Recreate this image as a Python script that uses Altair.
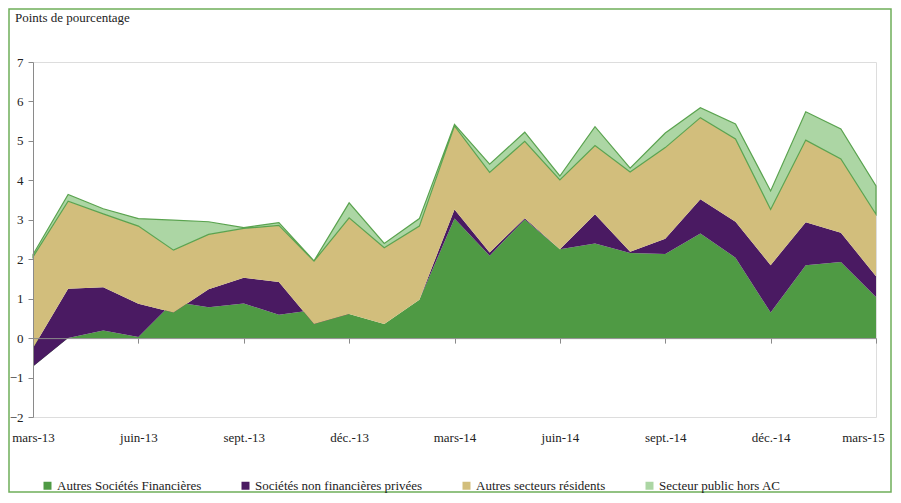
import altair as alt
import pandas as pd

months = ["mars-13", "avr.-13", "mai-13", "juin-13", "juil.-13", "août-13", "sept.-13",
          "oct.-13", "nov.-13", "déc.-13", "janv.-14", "févr.-14", "mars-14", "avr.-14",
          "mai-14", "juin-14", "juil.-14", "août-14", "sept.-14", "oct.-14", "nov.-14",
          "déc.-14", "janv.-15", "févr.-15", "mars-15"]
tick_labels = ["mars-13", "juin-13", "sept.-13", "déc.-13", "mars-14", "juin-14",
               "sept.-14", "déc.-14", "mars-15"]
series = ["Autres Sociétés Financières", "Sociétés non financières privées",
          "Autres secteurs résidents", "Secteur public hors AC"]
colors = ["#4f9a44", "#4a1a62", "#d2be7c", "#acd6a4"]

asf = [-0.72, 0.00, 0.19, 0.03, 0.92, 0.78, 0.88, 0.59, 0.71, 0.61, 0.36, 0.97, 3.03,
       2.09, 3.01, 2.25, 2.40, 2.16, 2.13, 2.65, 2.04, 0.65, 1.85, 1.93, 1.04]
snf = [0.47, 1.25, 1.10, 0.84, -0.27, 0.46, 0.65, 0.83, -0.35, 0.00, 0.00, 0.00, 0.23,
       0.08, 0.03, 0.00, 0.74, 0.03, 0.39, 0.87, 0.91, 1.20, 1.09, 0.74, 0.53]
asr = [2.31, 2.22, 1.86, 1.97, 1.58, 1.39, 1.25, 1.44, 1.59, 2.44, 1.93, 1.87, 2.12,
       2.03, 1.95, 1.76, 1.74, 2.02, 2.31, 2.07, 2.10, 1.41, 2.08, 1.87, 1.57]
spub = [0.06, 0.17, 0.13, 0.19, 0.76, 0.32, 0.02, 0.07, 0.01, 0.38, 0.11, 0.19, 0.04,
        0.21, 0.23, 0.10, 0.48, 0.10, 0.37, 0.25, 0.38, 0.47, 0.72, 0.76, 0.72]

# Excel-style cumulative stacking (each series starts from the previous running total)
rows = []
cum = [0.0] * len(months)
for name, vals in zip(series, [asf, snf, asr, spub]):
    for i, v in enumerate(vals):
        lo = cum[i]
        hi = lo + v
        rows.append(dict(idx=i, mois=months[i], serie=name, lo=lo, hi=hi, valeur=v))
        cum[i] = hi
df = pd.DataFrame(rows)

FONT = "'Liberation Serif', 'DejaVu Serif', serif"
label_arr = "[" + ",".join("'" + t + "'" for t in tick_labels) + "]"

x_enc = alt.X(
    "idx:Q",
    scale=alt.Scale(domain=[0, 24], nice=False, zero=False),
    axis=alt.Axis(
        values=list(range(0, 25, 3)),
        labelExpr=label_arr + "[round(datum.value / 3)]",
        title=None, grid=False, offset=-78.9, domainColor="#8a8a8a", tickColor="#8a8a8a",
        tickSize=5, labelPadding=88, labelFont=FONT, labelFontSize=13,
        labelColor="#222222", labelAlign="center", labelOverlap=False, labelFlush=False,
        labelOffset={"condition": {"test": "datum.value == 24", "value": -13}, "value": 0},
        zindex=1,
    ),
)
y_enc = alt.Y(
    "hi:Q",
    scale=alt.Scale(domain=[-2, 7], nice=False, zero=False),
    axis=alt.Axis(
        values=list(range(-2, 8)), title=None, grid=False, domainColor="#8a8a8a",
        tickColor="#8a8a8a", tickSize=5, labelPadding=5, labelFont=FONT,
        labelFontSize=13, labelColor="#222222", zindex=1,
    ),
)
color_enc = alt.Color(
    "serie:N",
    scale=alt.Scale(domain=series, range=colors),
    legend=alt.Legend(
        orient="none", legendX=8, legendY=417, direction="horizontal", title=None,
        symbolType="square", symbolSize=64, symbolStrokeWidth=0, labelFont=FONT,
        labelFontSize=13, labelColor="#222222", columnPadding=37, labelOffset=3,
        labelLimit=400,
    ),
)

layers = []
for k, name in enumerate(series):
    base = alt.Chart(df).transform_filter(alt.datum.serie == name)
    if k == 3:
        m = base.mark_area(opacity=1, stroke="#5aa34f", strokeWidth=1.2)
    else:
        m = base.mark_area(opacity=1)
    layers.append(m.encode(x=x_enc, y=y_enc, y2="lo:Q", color=color_enc))

one = pd.DataFrame({"a": [0]})
title = alt.Chart(one).mark_text(
    text="Points de pourcentage", align="left", baseline="middle", font=FONT,
    fontSize=13, color="#222222",
).encode(x=alt.value(-18), y=alt.value(-44))
frame = alt.Chart(one).mark_rect(
    fillOpacity=0, stroke="#6fae5a", strokeWidth=1.5
).encode(x=alt.value(-24), x2=alt.value(858), y=alt.value(-53), y2=alt.value(430))

chart = alt.layer(*layers, title, frame).properties(
    width=843, height=355,
    padding={"left": 25, "top": 54, "right": 17, "bottom": 76},
    autosize=alt.AutoSizeParams(type="none"),
).configure_view(stroke=None).configure(background="white")

chart.save("out.html", embed_options={"renderer": "svg", "actions": False})
